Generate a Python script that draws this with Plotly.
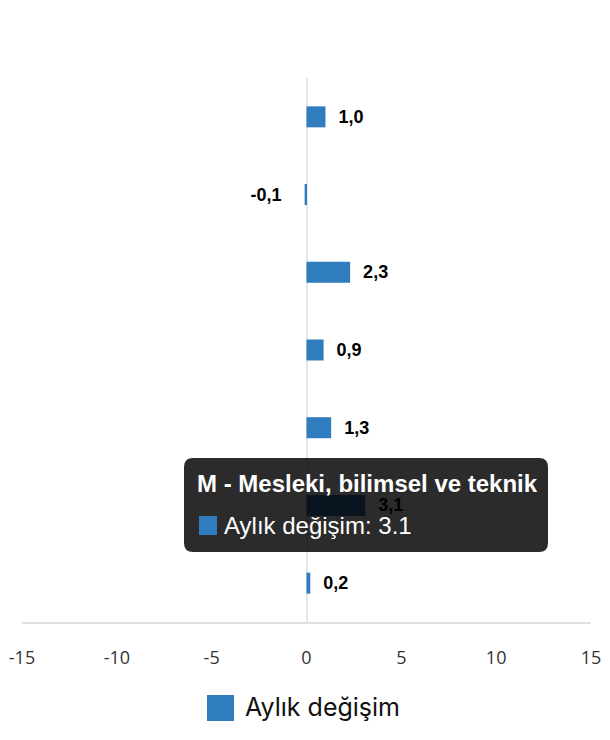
import plotly.graph_objects as go

# sektörler (yukarıdan aşağıya)
categories = [
    "G - Toptan ve perakende ticaret",
    "H - Ulaştırma ve depolama",
    "I - Konaklama ve yiyecek hizmeti",
    "J - Bilgi ve iletişim",
    "L - Gayrimenkul faaliyetleri",
    "M - Mesleki, bilimsel ve teknik",
    "N - İdari ve destek hizmet",
]
monthly_change = [1.0, -0.1, 2.3, 0.9, 1.3, 3.1, 0.2]
series_name = "Aylık değişim"
x_ticks = [-15, -10, -5, 0, 5, 10, 15]
hovered = 5  # tooltip açık olan çubuk

BLUE = "#2f7cbf"
OFF = 8  # sayfa gövdesinin kenar boşluğu
W, H = 594, 724
ML, MR, MT, MB = 14, 11, 70, 110
PW, PH = W - ML - MR, H - MT - MB


def px(x):
    # ekran pikseli -> paper
    return (x - OFF - ML) / PW


def py(y):
    return (H - MB - (y - OFF)) / PH


def rounded_box(x0, y0, x1, y1, r):
    # köşeleri yuvarlatılmış dikdörtgen, paper koordinatlarında
    pts = [
        f"M {px(x0 + r)} {py(y0)}",
        f"L {px(x1 - r)} {py(y0)}",
        f"Q {px(x1)} {py(y0)} {px(x1)} {py(y0 + r)}",
        f"L {px(x1)} {py(y1 - r)}",
        f"Q {px(x1)} {py(y1)} {px(x1 - r)} {py(y1)}",
        f"L {px(x0 + r)} {py(y1)}",
        f"Q {px(x0)} {py(y1)} {px(x0)} {py(y1 - r)}",
        f"L {px(x0)} {py(y0 + r)}",
        f"Q {px(x0)} {py(y0)} {px(x0 + r)} {py(y0)}",
        "Z",
    ]
    return " ".join(pts)


labels = [f"{v:.1f}".replace(".", ",") for v in monthly_change]
texts = ["\u00a0\u00a0" + t if v >= 0 else t + "\u00a0" * 4 for t, v in zip(labels, monthly_change)]

fig = go.Figure()
fig.add_trace(go.Bar(
    y=categories, x=monthly_change, orientation="h",
    name=series_name,
    marker=dict(color=BLUE, line=dict(width=0)),
    text=texts, textposition="outside", cliponaxis=False,
    textfont=dict(family="Liberation Sans", size=18, color="#000", weight="bold"),
    showlegend=False,
))

shapes = [
    # tooltip kutusu
    dict(type="path", xref="paper", yref="paper", layer="above",
         path=rounded_box(184, 458, 548, 552, 9),
         fillcolor="rgba(0,0,0,0.83)", line=dict(width=0)),
    dict(type="rect", xref="paper", yref="paper", layer="above",
         x0=px(199), x1=px(217), y0=py(535), y1=py(516),
         fillcolor=BLUE, line=dict(width=0)),
    # lejant
    dict(type="rect", xref="paper", yref="paper", layer="above",
         x0=px(207), x1=px(234), y0=py(721), y1=py(695),
         fillcolor=BLUE, line=dict(width=0)),
]

annotations = [
    dict(xref="paper", yref="paper", x=px(195), y=py(483), xanchor="left", yanchor="middle",
         text="<b>" + categories[hovered] + "</b>", showarrow=False,
         font=dict(family="Liberation Sans", size=24, color="#fff")),
    dict(xref="paper", yref="paper", x=px(222), y=py(525), xanchor="left", yanchor="middle",
         text=f"{series_name}: {monthly_change[hovered]}", showarrow=False,
         font=dict(family="Liberation Sans", size=24, color="#fff")),
    dict(xref="paper", yref="paper", x=px(243), y=py(707), xanchor="left", yanchor="middle",
         text=series_name, showarrow=False,
         font=dict(family="Inter", size=25, color="#111")),
]

fig.update_layout(
    width=W, height=H,
    margin=dict(l=ML, r=MR, t=MT, b=MB),
    paper_bgcolor="#fff", plot_bgcolor="#fff",
    bargap=0.73,
    shapes=shapes, annotations=annotations,
    xaxis=dict(
        range=[-15, 15], tickvals=x_ticks, ticktext=[str(t) for t in x_ticks],
        showgrid=False, zeroline=True, zerolinecolor="#e2e6ee", zerolinewidth=1.5,
        showline=True, linecolor="#e0e0e0", linewidth=2,
        ticks="", ticklabelstandoff=18, ticklabeloverflow="allow", automargin=False,
        tickfont=dict(family="Open Sans", size=18, color="#333"),
        fixedrange=True,
    ),
    yaxis=dict(
        autorange="reversed", showticklabels=False, showgrid=False, automargin=False,
        zeroline=False, showline=False, ticks="", fixedrange=True,
    ),
)

fig.write_html("out.html")
